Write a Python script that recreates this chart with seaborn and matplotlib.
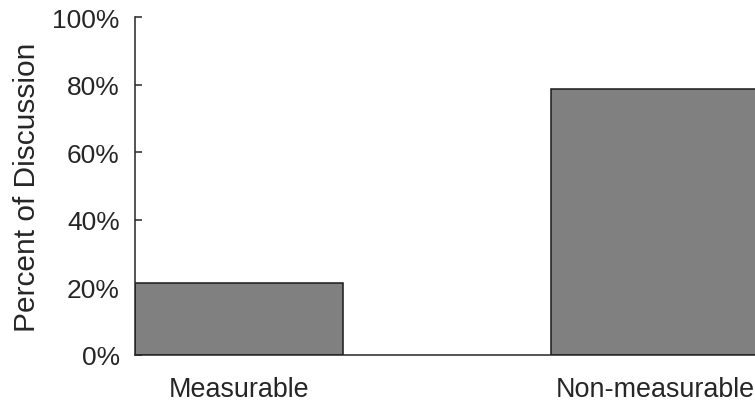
import matplotlib
matplotlib.use("Agg")
import matplotlib.pyplot as plt
import seaborn as sns
import pandas as pd
from matplotlib.ticker import FuncFormatter

categories = ["Measurable", "Non-measurable"]
percent = [21.3, 78.7]
yticks = [0, 20, 40, 60, 80, 100]

sns.set_theme(style="white")
plt.rcParams['font.family'] = ['Liberation Sans', 'DejaVu Sans']
txt = '#262626'

df = pd.DataFrame({"Category": categories, "Percent": percent})

fig = plt.figure(figsize=(7.55, 4.02), dpi=100)
ax = fig.add_axes([135/755, 46/402, 625/755, 338/402])

sns.barplot(data=df, x="Category", y="Percent", color="#808080", saturation=1,
            width=0.5, edgecolor="#1a1a1a", linewidth=1.1, ax=ax, clip_on=True)

ax.set_xlim(-0.25, 1.252)
ax.set_ylim(0, 100)
ax.set_yticks(yticks)
ax.yaxis.set_major_formatter(FuncFormatter(lambda v, p: f"{int(v)}%"))
ax.set_xlabel("")
ax.set_ylabel("Percent of Discussion", fontsize=21.5, color=txt, labelpad=8)
ax.tick_params(axis='both', direction='in', length=5, width=1.1, color='#262626',
               labelcolor=txt, left=True, bottom=True)
ax.tick_params(axis='y', labelsize=19, pad=11)
ax.tick_params(axis='x', labelsize=19.4, pad=15)
for s in ['top', 'right']:
    ax.spines[s].set_visible(False)
for s in ['left', 'bottom']:
    ax.spines[s].set_color('#262626')
    ax.spines[s].set_linewidth(1.1)

fig.savefig("out.png", dpi=100)
